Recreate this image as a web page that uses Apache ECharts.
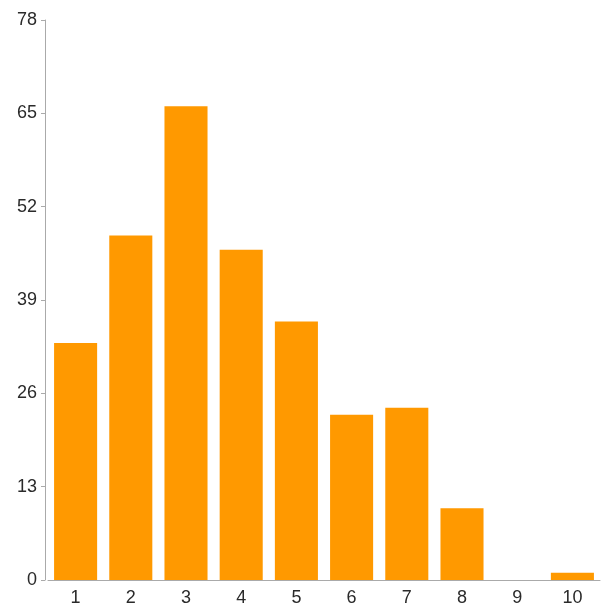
<!DOCTYPE html>
<html>
<head>
<meta charset="utf-8">
<script src="https://cdn.jsdelivr.net/npm/echarts@6/dist/echarts.min.js"></script>
<style>html,body{margin:0;padding:0;background:#fff;}#c{width:604px;height:608px;}</style>
</head>
<body>
<div id="c"></div>
<script>
const categories = ['1','2','3','4','5','6','7','8','9','10'];
const values = [33, 48, 66, 46, 36, 23, 24, 10, 0, 1];
const yTicks = [0, 13, 26, 39, 52, 65, 78];

const chart = echarts.init(document.getElementById('c'), null, {renderer: 'canvas'});
chart.setOption({
  animation: false,
  grid: {left: 48, right: 4, top: 20, bottom: 28, containLabel: false},
  xAxis: {
    type: 'category',
    data: categories,
    axisLine: {lineStyle: {color: '#aaaaaa', width: 1}},
    axisTick: {alignWithLabel: true, length: 4, lineStyle: {color: '#aaaaaa'}},
    axisLabel: {color: '#2a2a2a', fontSize: 18, fontFamily: 'Liberation Sans, Arial, sans-serif', margin: 9}
  },
  yAxis: {
    type: 'value',
    min: yTicks[0],
    max: yTicks[yTicks.length - 1],
    interval: 13,
    offset: 3,
    splitLine: {show: false},
    axisLine: {show: true, lineStyle: {color: '#aaaaaa', width: 1}},
    axisTick: {show: true, length: 4, lineStyle: {color: '#aaaaaa'}},
    axisLabel: {color: '#2a2a2a', fontSize: 18, fontFamily: 'Liberation Sans, Arial, sans-serif', margin: 8}
  },
  series: [{
    type: 'bar',
    data: values,
    barCategoryGap: '22%',
    itemStyle: {color: '#ff9900'}
  }]
});
</script>
</body>
</html>
